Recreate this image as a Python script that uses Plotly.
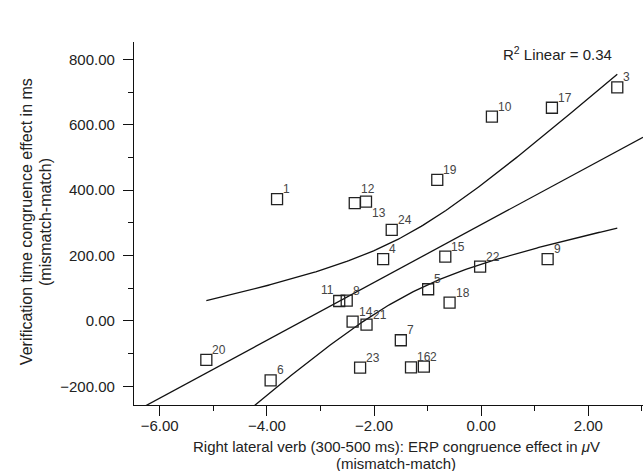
import numpy as np
import plotly.graph_objects as go

# ---- data ----
subject_ids = [str(i) for i in range(1, 25)]
erp_effect_uv = [-3.81, -1.07, 2.54, -1.83, -0.99, -3.93, -1.50, -2.51, 1.24, 0.20,
                 -2.65, -2.15, -2.36, -2.40, -0.67, -1.31, 1.32, -0.59, -0.82, -5.13,
                 -2.14, -0.02, -2.26, -1.67]
rt_effect_ms = [372.5, -139.9, 714.0, 188.9, 97.0, -181.5, -59.0, 62.0, 189.0, 625.0,
                61.0, 365.0, 360.0, -2.0, 197.0, -142.0, 652.0, 56.0, 431.6, -119.0,
                -11.0, 166.0, -143.0, 278.5]
r2_text = "R<sup>2</sup> Linear = 0.34"
x_title_1 = "Right lateral verb (300-500 ms): ERP congruence effect in <i>\u03bc</i>V"
x_title_2 = "(mismatch-match)"
y_title_1 = "Verification time congruence effect in ms"
y_title_2 = "(mismatch-match)"

# ---- layout parameters ----
X_RANGE = [-6.48, 3.02]
Y_RANGE = [-257, 853]
FONT = "Liberation Sans, Arial, sans-serif"

# label placement tweaks (pixels) for crowded labels
label_offsets = {"11": (-20, 2), "12": (-7, 4), "13": (15, -19)}

x = np.array(erp_effect_uv)
y = np.array(rt_effect_ms)
n = len(x)
slope, intercept = np.polyfit(x, y, 1)
resid = y - (slope * x + intercept)
s = np.sqrt(np.sum(resid ** 2) / (n - 2))
xm = x.mean()
sxx = np.sum((x - xm) ** 2)
t_crit = 2.074  # t(0.975, df=22)

xl = np.linspace(X_RANGE[0], X_RANGE[1], 200)
yl = slope * xl + intercept
xb = np.linspace(x.min(), x.max(), 200)
yb = slope * xb + intercept
hw = t_crit * s * np.sqrt(1 / n + (xb - xm) ** 2 / sxx)

fig = go.Figure()
line_style = dict(color="#111111", width=1.3)
fig.add_trace(go.Scatter(x=xl, y=yl, mode="lines", line=line_style, hoverinfo="skip"))
fig.add_trace(go.Scatter(x=xb, y=yb + hw, mode="lines", line=line_style, hoverinfo="skip"))
fig.add_trace(go.Scatter(x=xb, y=yb - hw, mode="lines", line=line_style, hoverinfo="skip"))
fig.add_trace(go.Scatter(
    x=x, y=y, mode="markers",
    marker=dict(symbol="square-open", size=11, color="#222222", line=dict(width=1.3)),
))

for sid, xi, yi in zip(subject_ids, erp_effect_uv, rt_effect_ms):
    dx, dy = label_offsets.get(sid, (4, 1))
    fig.add_annotation(x=xi, y=yi, text=sid, showarrow=False, xanchor="left",
                       yanchor="bottom", xshift=dx, yshift=dy,
                       font=dict(family=FONT, size=12, color="#444444"))

fig.add_annotation(xref="paper", yref="paper", x=0.943, y=1.0, text=r2_text,
                   showarrow=False, xanchor="right", yanchor="top",
                   font=dict(family=FONT, size=15, color="#222222"))

# axis titles
fig.add_annotation(xref="paper", yref="paper", x=0.515, y=-0.085, text=x_title_1,
                   showarrow=False, xanchor="center", yanchor="top",
                   font=dict(family=FONT, size=15, color="#222222"))
fig.add_annotation(xref="paper", yref="paper", x=0.515, y=-0.133, text=x_title_2,
                   showarrow=False, xanchor="center", yanchor="top",
                   font=dict(family=FONT, size=15, color="#222222"))
fig.add_annotation(xref="paper", yref="paper", x=-0.212, y=0.504, text=y_title_1,
                   showarrow=False, textangle=-90, xanchor="center", yanchor="middle",
                   font=dict(family=FONT, size=16, color="#222222"))
fig.add_annotation(xref="paper", yref="paper", x=-0.175, y=0.504, text=y_title_2,
                   showarrow=False, textangle=-90, xanchor="center", yanchor="middle",
                   font=dict(family=FONT, size=16, color="#222222"))

axis_common = dict(
    showline=True, linecolor="#111111", linewidth=1.2, mirror=False,
    showgrid=False, zeroline=False, ticks="outside", ticklen=10, tickwidth=1.2,
    tickcolor="#111111", tickformat=".2f",
    tickfont=dict(family=FONT, size=15, color="#222222"),
)
fig.update_xaxes(range=X_RANGE, tick0=-6, dtick=2, ticklabelstandoff=-3,
                 minor=dict(dtick=1, ticklen=5, tickwidth=1.2, tickcolor="#111111",
                            ticks="outside", showgrid=False),
                 **axis_common)
fig.update_yaxes(range=Y_RANGE, tick0=-200, dtick=200, ticklabelstandoff=5,
                 minor=dict(dtick=100, ticklen=5, tickwidth=1.2, tickcolor="#111111",
                            ticks="outside", showgrid=False),
                 **axis_common)

fig.update_layout(
    width=643, height=471,
    margin=dict(l=134, r=0, t=42, b=66),
    paper_bgcolor="white", plot_bgcolor="white",
    showlegend=False,
    font=dict(family=FONT, color="#222222"),
)

fig.write_html(
    "out.html",
    config={"displayModeBar": False},
    post_script="document.body.style.margin='0';document.body.style.overflow='hidden';",
)
